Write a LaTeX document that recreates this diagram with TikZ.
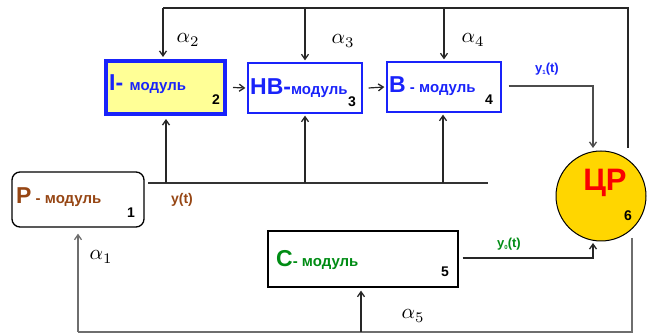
\documentclass[tikz,border=0pt]{standalone}
\usepackage{fontspec}
\usepackage{graphicx}
\newfontfamily\arial{Liberation Sans}
\usetikzlibrary{arrows.meta}
\definecolor{mblue}{RGB}{25,35,250}
\definecolor{mbrown}{RGB}{150,70,20}
\definecolor{mgreen}{RGB}{0,140,20}
\definecolor{myellow}{RGB}{255,255,150}
\definecolor{mgold}{RGB}{255,214,0}
\definecolor{mred}{RGB}{250,0,0}
\definecolor{lgray}{RGB}{110,110,110}
\tikzset{
  modbox/.style={draw, line width=1.3pt, inner sep=0pt},
  wire/.style={line width=1.5pt, draw=black!85},
  gwire/.style={line width=1.5pt, draw=lgray},
  arr/.style={-{Straight Barb[length=5pt,width=7pt,line width=1.3pt]}},
  num/.style={font=\arial\bfseries\fontsize{14}{14}\selectfont, text=black, inner sep=0pt},
  alab/.style={inner sep=0pt},
  txt/.style={inner sep=0pt, anchor=west},
}
\newcommand{\alab}[1]{\scalebox{2.1}{$\alpha_{#1}$}}
\newcommand{\bigf}{\arial\bfseries\fontsize{23}{23}\selectfont}
\newcommand{\smallf}{\arial\bfseries\fontsize{15}{15}\selectfont}
\begin{document}
\begin{tikzpicture}[x=1pt,y=-1pt]
\useasboundingbox (0,0) rectangle (648,336);

% module boxes
\node[modbox, draw=mblue, line width=4pt, fill=myellow, minimum width=119pt, minimum height=53pt] (I) at (165.5,87.5) {};
\node[modbox, draw=mblue, minimum width=114pt, minimum height=50pt] (HB) at (305,88) {};
\node[modbox, draw=mblue, minimum width=114pt, minimum height=50pt] (B) at (444,87) {};
\node[modbox, draw=black, rounded corners=8pt, minimum width=132pt, minimum height=55pt] (P) at (78,199.5) {};
\node[modbox, draw=black, minimum width=190pt, minimum height=56pt] (C) at (363,259) {};
\node[circle, draw=black, line width=1pt, fill=mgold, minimum size=90pt, inner sep=0pt] (CR) at (601,196) {};

% box captions
\node[txt, text=mblue] (Itxt) at (109,84) {\bigf I- \smallf модуль};
\node[txt, text=mblue] (HBtxt) at (250,88) {\bigf HB-\smallf модуль};
\node[txt, text=mblue] (Btxt) at (389,86) {\bigf B\smallf\ - модуль};
\node[txt, text=mbrown] (Ptxt) at (16,197) {\bigf P\smallf\ - модуль};
\node[txt, text=mgreen] (Ctxt) at (276,260) {\bigf C\smallf- модуль};
\node[inner sep=0pt, text=mred] (CRtxt) at (605,183) {\arial\bfseries\fontsize{31}{31}\selectfont ЦР};

% box numbers
\node[num] (n2) at (216,100) {2};
\node[num] (n3) at (352,102) {3};
\node[num] (n4) at (489,100) {4};
\node[num] (n1) at (131,213) {1};
\node[num] (n5) at (445,272) {5};
\node[num] (n6) at (628,216) {6};

% signal labels
\node[inner sep=0pt, text=mbrown, font=\arial\bfseries\fontsize{14}{14}\selectfont] (yt) at (182,200) {y(t)};
\node[inner sep=0pt, text=mblue, font=\arial\bfseries\fontsize{13}{13}\selectfont] (y1) at (547,69) {y\raisebox{-2pt}{\fontsize{6}{6}\selectfont 1}(t)};
\node[inner sep=0pt, text=mgreen, font=\arial\bfseries\fontsize{13}{13}\selectfont] (y0) at (509,244) {y\raisebox{-2pt}{\fontsize{6}{6}\selectfont 0}(t)};

\node[alab] (a1) at (101,257) {\alab1};
\node[alab] (a2) at (188,40) {\alab2};
\node[alab] (a3) at (343,41) {\alab3};
\node[alab] (a4) at (473,40) {\alab4};
\node[alab] (a5) at (413,316) {\alab5};

% top feedback bus
\coordinate (t1) at (163,8);
\coordinate (t4) at (628,8);
\coordinate (t4b) at (628,148);
\draw[wire] (t1) -- (t4) -- (t4b);
\draw[wire, arr] (t1) -- ([yshift=2pt]I.north -| t1);
\draw[wire, arr] (HB.north |- t1) -- ([yshift=2pt]HB.north);
\draw[wire, arr] (B.north |- t1) -- ([yshift=2pt]B.north);

% y(t) bus from the P module
\coordinate (yl) at (148,183);
\coordinate (yr) at (488,183);
\draw[wire, draw=black!80] (yl) -- (yr);
\coordinate (u1) at (166,183);
\coordinate (u2) at (305,183);
\coordinate (u3) at (443,183);
\draw[wire, arr] (u1) -- ([yshift=-3pt]I.south -| u1);
\draw[wire, arr] (u2) -- ([yshift=-2pt]HB.south -| u2);
\draw[wire, arr] (u3) -- ([yshift=-2pt]B.south -| u3);

% chain of modules
\draw[wire, arr, line width=1.2pt] ([xshift=6pt]I.east) -- ([xshift=-2pt]HB.west);
\draw[wire, arr, line width=1.2pt] ([xshift=6pt]HB.east) -- ([xshift=-2pt]B.west);

% outputs into the circle
\coordinate (c1) at (593,86);
\draw[gwire, draw=black!70, arr] ([xshift=7pt]B.east |- c1) -- (c1) -- (593,148);
\coordinate (c2) at (593,258);
\draw[wire, arr] ([xshift=4pt]C.east |- c2) -- (c2) -- (593,243);

% lower feedback bus
\coordinate (b1) at (632,238);
\coordinate (b2) at (632,332);
\coordinate (b3) at (78,332);
\draw[gwire] (b1) -- (b2) -- (b3);
\draw[gwire, arr] (b3) -- ([yshift=-6pt]P.south);
\coordinate (b4) at (361,332);
\draw[wire, arr] (b4) -- ([yshift=-3pt]C.south -| b4);
\end{tikzpicture}
\end{document}
